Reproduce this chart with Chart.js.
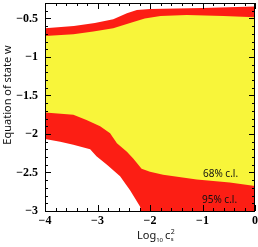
<!DOCTYPE html>
<html>
<head>
<meta charset="utf-8">
<script src="https://cdn.jsdelivr.net/npm/chart.js@4"></script>
<style>body{margin:0;background:#fff}</style>
</head>
<body>
<canvas id="wChart" width="258" height="247"></canvas>
<script>
// boundaries of the confidence regions
const upper68X = [-4, -3.46, -3.08, -2.7, -2.38, -2.1, -1.8, -1.3, -0.6, 0];
const upper68W = [-0.727, -0.705, -0.671, -0.627, -0.56, -0.5, -0.47, -0.457, -0.47, -0.485];
const lower68X = [-4, -3.46, -3.21, -2.95, -2.76, -2.63, -2.44, -2.32, -2.16, -2.0, -1.75, -1.11, -0.48, 0];
const lower68W = [-1.72, -1.75, -1.82, -1.9, -1.99, -2.12, -2.23, -2.32, -2.45, -2.49, -2.53, -2.59, -2.63, -2.675];
const upper95X = [-4, -3.45, -3.05, -2.7, -2.44, -2.25, -2.0, -1.0, 0];
const upper95W = [-0.627, -0.597, -0.56, -0.51, -0.434, -0.39, -0.377, -0.365, -0.345];
const lower95X = [-4, -3.71, -3.46, -3.14, -3.02, -2.82, -2.57, -2.38, -2.19, -2.17, 0];
const lower95W = [-2.065, -2.1, -2.14, -2.2, -2.29, -2.4, -2.55, -2.73, -2.94, -3, -3];

const xTickValues = [-4, -3, -2, -1, 0];
const yTickValues = [-0.5, -1, -1.5, -2, -2.5, -3];

const regionLabels = ['68% c.l.', '95% c.l.'];
const regionLabelX = [-0.99, -1.01];
const regionLabelW = [-2.56, -2.9];

const yellow = 'rgb(248, 245, 58)';
const red = 'rgb(252, 30, 20)';

const pts = (xs, ys) => xs.map((x, i) => ({x: x, y: ys[i]}));
const fmt = v => v === 0 ? '0' : '\u2212' + Math.abs(v);
const tickFont = {family: '"Liberation Serif", serif', weight: 'bold', size: 12};

const band = (data, fill, color) => ({
  data: data,
  fill: fill,
  backgroundColor: color,
  borderWidth: 0,
  pointRadius: 0,
  tension: 0,
});

// inward ticks on all four sides, frame, titles and region labels
const framePlugin = {
  id: 'frame',
  afterDatasetsDraw(chart) {
    const ctx = chart.ctx;
    const a = chart.chartArea;
    const xs = chart.scales.x;
    const ys = chart.scales.y;
    ctx.save();
    ctx.strokeStyle = '#000';
    ctx.lineWidth = 1;
    ctx.beginPath();
    for (let i = 0; i <= 20; i++) {
      const v = xs.min + i * 0.2;
      const p = Math.round(xs.getPixelForValue(v)) + 0.5;
      const len = i % 5 === 0 ? 6 : 3;
      ctx.moveTo(p, a.bottom); ctx.lineTo(p, a.bottom - len);
      ctx.moveTo(p, a.top); ctx.lineTo(p, a.top + len);
    }
    for (let i = 0; i <= 27; i++) {
      const v = ys.min + i * 0.1;
      const p = Math.round(ys.getPixelForValue(v)) + 0.5;
      const len = i % 5 === 0 ? 6 : 3;
      ctx.moveTo(a.left, p); ctx.lineTo(a.left + len, p);
      ctx.moveTo(a.right, p); ctx.lineTo(a.right - len, p);
    }
    ctx.stroke();
    ctx.strokeRect(Math.round(a.left) + 0.5, Math.round(a.top) + 0.5,
      Math.round(a.right - a.left) - 1, Math.round(a.bottom - a.top));

    ctx.fillStyle = '#111';
    ctx.font = '10px "Noto Sans"';
    ctx.textAlign = 'left';
    ctx.textBaseline = 'alphabetic';
    regionLabels.forEach((t, i) => {
      ctx.fillText(t, xs.getPixelForValue(regionLabelX[i]), ys.getPixelForValue(regionLabelW[i]));
    });

    // y title
    ctx.save();
    ctx.translate(11, 95);
    ctx.rotate(-Math.PI / 2);
    ctx.textAlign = 'center';
    ctx.font = '11px "Noto Sans"';
    ctx.fillText('Equation of state w', 0, 0);
    ctx.restore();

    // x title: Log10 c_s^2
    let x = 137;
    const base = 239;
    ctx.font = '11px "Noto Sans"';
    ctx.fillText('Log', x, base);
    x += ctx.measureText('Log').width;
    ctx.font = '6px "Noto Sans"';
    ctx.fillText('10', x, base + 3);
    x += ctx.measureText('10').width + 2;
    ctx.font = '11px "Noto Sans"';
    ctx.fillText('c', x, base);
    x += ctx.measureText('c').width + 0.5;
    ctx.font = '7px "Noto Sans"';
    ctx.fillText('2', x, base - 5);
    ctx.font = '6px "Noto Sans"';
    ctx.fillText('s', x, base + 2);
    ctx.restore();
  }
};

new Chart(document.getElementById('wChart'), {
  type: 'line',
  data: {
    datasets: [
      band(pts(upper68X, upper68W), false, yellow),
      band(pts(lower68X, lower68W), '-1', yellow),
      band(pts(upper95X, upper95W), false, red),
      band(pts(lower95X, lower95W), '-1', red),
    ]
  },
  options: {
    responsive: false,
    animation: false,
    devicePixelRatio: 1,
    layout: {padding: {top: 3, right: 3, left: 0, bottom: 0}},
    plugins: {legend: {display: false}, tooltip: {enabled: false}},
    scales: {
      x: {
        type: 'linear',
        min: -4,
        max: 0,
        grid: {display: false, drawTicks: false},
        border: {display: false},
        afterBuildTicks: s => { s.ticks = xTickValues.map(v => ({value: v})); },
        afterFit: s => { s.height = 36; s.paddingLeft = 0; s.paddingRight = 0; },
        ticks: {font: tickFont, color: '#000', padding: 3, maxRotation: 0, autoSkip: false, callback: fmt},
      },
      y: {
        type: 'linear',
        min: -3,
        max: -0.3,
        grid: {display: false, drawTicks: false},
        border: {display: false},
        afterBuildTicks: s => { s.ticks = yTickValues.map(v => ({value: v})); },
        afterFit: s => { s.width = 45; s.paddingTop = 0; s.paddingBottom = 0; },
        ticks: {font: tickFont, color: '#000', padding: 7, autoSkip: false, callback: fmt},
      }
    }
  },
  plugins: [framePlugin]
});
</script>
</body>
</html>
